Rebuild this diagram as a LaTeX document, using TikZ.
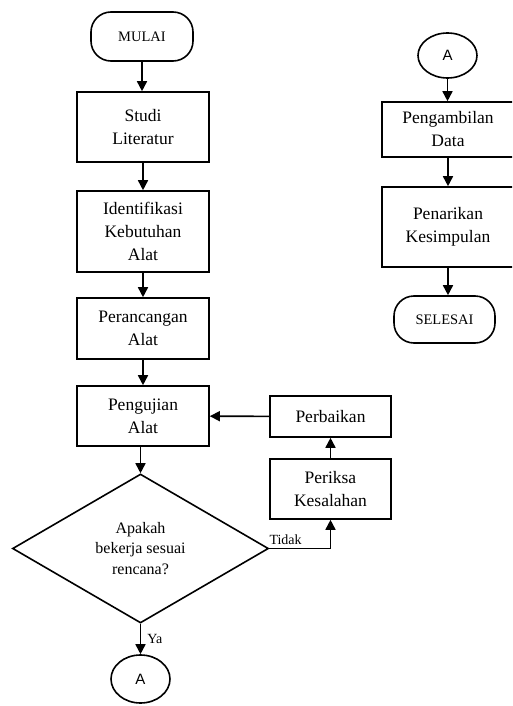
\documentclass[tikz,border=0pt]{standalone}
\usepackage{fontspec}
\setmainfont{Liberation Serif}
\setsansfont{Liberation Sans}
\usetikzlibrary{shapes.geometric,arrows.meta}
\tikzset{
  box/.style={draw,line width=1.6pt,rectangle,minimum width=132pt,align=center,inner sep=0pt,
    font=\fontsize{17.5}{23}\selectfont},
  term/.style={draw,line width=1.6pt,rectangle,rounded corners=20pt,inner sep=0pt,
    font=\fontsize{14.5}{18}\selectfont},
  conn/.style={draw,line width=1.6pt,ellipse,inner sep=0pt,minimum width=59pt,
    font=\sffamily\fontsize{15}{18}\selectfont},
  dec/.style={draw,line width=1.6pt,diamond,inner sep=0pt,align=center,
    font=\fontsize{16}{20.7}\selectfont},
  arr/.style={line width=1.6pt,-{Triangle[length=10pt,width=10pt]}},
  lbl/.style={font=\fontsize{14}{15}\selectfont,inner sep=0pt}
}
\begin{document}
\begin{tikzpicture}[x=1pt,y=-1pt]
\useasboundingbox (0,0) rectangle (512,706);
\clip (0,0) rectangle (512,706);
% left column
\node[term,minimum width=102pt,minimum height=49pt] (mulai) at (142,36.5) {MULAI};
\node[box,minimum height=70pt] (studi) at (143,127) {Studi\\Literatur};
\node[box,minimum height=81pt] (ident) at (143,231.5) {Identifikasi\\Kebutuhan\\Alat};
\node[box,minimum height=61pt] (peranc) at (143,328.5) {Perancangan\\Alat};
\node[box,minimum height=60pt] (penguj) at (143,416) {Pengujian\\Alat};
\node[dec,minimum width=256pt,minimum height=149pt] (dec) at (140.5,548.5) {Apakah\\bekerja sesuai\\rencana?};
\node[conn,minimum height=48pt] (abot) at (140.5,679) {A};
\node[box,minimum width=121pt,minimum height=41pt] (perb) at (330.5,416.5) {Perbaikan};
\node[box,minimum width=121pt,minimum height=60pt] (perik) at (330.5,489) {Periksa\\Kesalahan};
% right column
\node[conn,minimum height=45pt] (atop) at (447.5,55.5) {A};
\node[box,minimum height=55pt] (ambil) at (448,129.5) {Pengambilan\\Data};
\node[box,minimum height=80pt] (tarik) at (448,227) {Penarikan\\Kesimpulan};
\node[term,minimum width=101pt,minimum height=47pt] (selesai) at (444.5,319.5) {SELESAI};
% connectors
\draw[arr] (mulai) -- (mulai |- studi.north);
\draw[arr] (studi) -- (ident);
\draw[arr] (ident) -- (peranc);
\draw[arr] (peranc) -- (penguj);
\draw[arr] (dec.north |- penguj.south) -- (dec.north);
\draw[arr] (dec.south) -- (abot.north) node[lbl,pos=0.5,right=6pt] (ya) {Ya};
\draw[arr] (dec.east) -| (perik.south);
\node[lbl,anchor=south west] (tidak) at ([yshift=4pt]dec.east) {Tidak};
\draw[arr] (perik) -- (perb);
\draw[arr] (perb) -- (penguj);
\draw[arr] (atop) -- (atop |- ambil.north);
\draw[arr] (ambil) -- (tarik);
\draw[arr] (tarik.south) -- (tarik.south |- selesai.north);
\end{tikzpicture}
\end{document}
